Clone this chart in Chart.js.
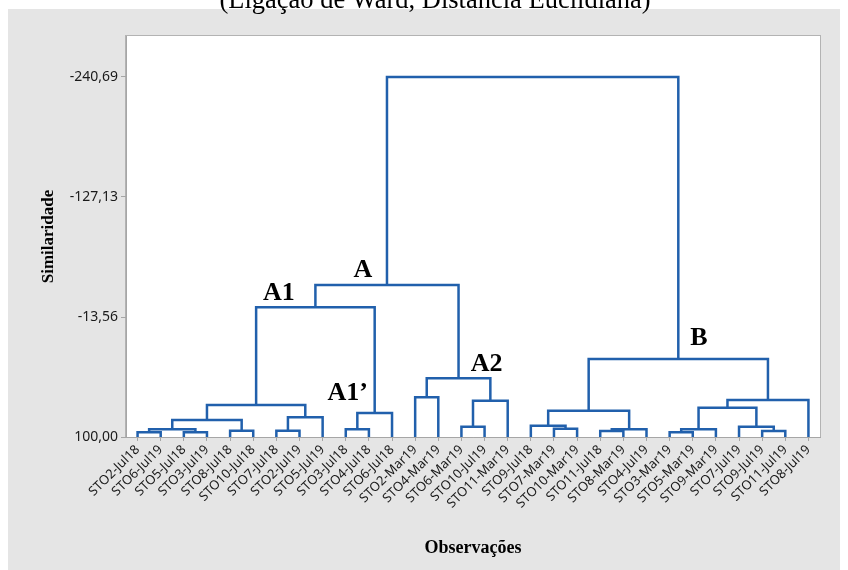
<!DOCTYPE html>
<html>
<head>
<meta charset="utf-8">
<script src="https://cdn.jsdelivr.net/npm/chart.js@4.4.0/dist/chart.umd.min.js"></script>
<style>
  html, body { margin: 0; padding: 0; background: #ffffff; }
  canvas { display: block; }
</style>
</head>
<body>
<canvas id="dendro" width="848" height="570"></canvas>
<script>
// Observations in dendrogram leaf order
const leafLabels = [
  'STO2-Jul18', 'STO6-Jul19', 'STO5-Jul18', 'STO3-Jul19', 'STO8-Jul18',
  'STO10-Jul18', 'STO7-Jul18', 'STO2-Jul19', 'STO5-Jul19', 'STO3-Jul18',
  'STO4-Jul18', 'STO6-Jul18', 'STO2-Mar19', 'STO4-Mar19', 'STO6-Mar19',
  'STO10-Jul19', 'STO11-Mar19', 'STO9-Jul18', 'STO7-Mar19', 'STO10-Mar19',
  'STO11-Jul18', 'STO8-Mar19', 'STO4-Jul19', 'STO3-Mar19', 'STO5-Mar19',
  'STO9-Mar19', 'STO7-Jul19', 'STO9-Jul19', 'STO11-Jul19', 'STO8-Jul19'
];

// Ward linkage steps: node ids < 30 are observations, id 30+k is the cluster made at step k
const mergeLeft   = [0, 2, 30, 4, 32, 6, 35, 34, 9, 38, 37, 12, 14, 42, 41, 40, 18, 17, 20, 48, 47, 23, 51, 27, 26, 52, 55, 50, 45];
const mergeRight  = [1, 3, 31, 5, 33, 7, 8, 36, 10, 11, 39, 13, 15, 16, 43, 44, 19, 46, 21, 22, 49, 24, 25, 28, 53, 54, 29, 56, 57];
const mergeHeight = [95.55, 95.55, 92.71, 94.04, 83.91, 94.04, 81.36, 69.72, 92.71, 77.29,
                     -22.74, 62.43, 90.25, 65.74, 44.45, -43.85, 92.15, 89.31, 94.32, 92.71,
                     75.11, 95.55, 92.71, 94.32, 90.25, 72.27, 64.98, 26.18, -240.69];

// Similarity axis ticks
const yTickValues = [100, -13.56, -127.13, -240.69];

// Named groups and the linkage step they label
const groupNames = ['A1', 'A1\u2019', 'A2', 'A', 'B'];
const groupSteps = [10, 9, 14, 15, 27];

const nLeaves = leafLabels.length;
const nodeX = [];
const nodeH = [];
for (let i = 0; i < nLeaves; i++) { nodeX.push(i); nodeH.push(100); }
for (let k = 0; k < mergeHeight.length; k++) {
  nodeX.push((nodeX[mergeLeft[k]] + nodeX[mergeRight[k]]) / 2);
  nodeH.push(mergeHeight[k]);
}

const lineColor = '#2160ac';
const datasets = mergeHeight.map((h, k) => {
  const l = mergeLeft[k], r = mergeRight[k];
  return {
    data: [
      { x: nodeX[l], y: nodeH[l] },
      { x: nodeX[l], y: h },
      { x: nodeX[r], y: h },
      { x: nodeX[r], y: nodeH[r] }
    ],
    borderColor: lineColor,
    borderWidth: 2.5,
    borderJoinStyle: 'miter',
    borderCapStyle: 'butt',
    pointRadius: 0,
    fill: false,
    tension: 0
  };
});

// Grey panel behind the chart and white framed plotting area
const panelPlugin = {
  id: 'panel',
  beforeDraw(chart) {
    const { ctx, chartArea: a } = chart;
    ctx.save();
    ctx.fillStyle = '#e5e5e5';
    ctx.fillRect(8, 9, 832, 561);
    ctx.fillStyle = '#ffffff';
    ctx.fillRect(a.left, a.top, a.right - a.left, a.bottom - a.top);
    ctx.strokeStyle = '#b3b3b3';
    ctx.lineWidth = 1;
    ctx.strokeRect(a.left - 0.5, a.top - 0.5, a.right - a.left + 1, a.bottom - a.top + 1);
    ctx.restore();
  }
};

// Heading text above the panel
const headingPlugin = {
  id: 'heading',
  afterDraw(chart) {
    const ctx = chart.ctx;
    ctx.save();
    ctx.font = '26.5px "Liberation Serif", "Times New Roman", serif';
    ctx.fillStyle = '#000000';
    ctx.textAlign = 'center';
    ctx.textBaseline = 'alphabetic';
    ctx.fillText('(Ligação de Ward, Distância Euclidiana)', 435, 7.5);
    ctx.restore();
  }
};

// Group names placed next to their linkage node
const groupPlugin = {
  id: 'groups',
  afterDatasetsDraw(chart) {
    const { ctx, scales: { x, y } } = chart;
    const offsets = { 'A1': [-36.5, -7], 'A1\u2019': [-27, -13], 'A2': [28, -7], 'A': [-24, -8], 'B': [20.5, -14] };
    ctx.save();
    ctx.font = 'bold 26px "Liberation Serif", "Times New Roman", serif';
    ctx.fillStyle = '#000000';
    ctx.textAlign = 'center';
    ctx.textBaseline = 'alphabetic';
    groupNames.forEach((name, i) => {
      const node = nLeaves + groupSteps[i];
      const px = x.getPixelForValue(nodeX[node]);
      const py = y.getPixelForValue(nodeH[node]);
      const o = offsets[name];
      ctx.fillText(name, px + o[0], py + o[1]);
    });
    ctx.restore();
  }
};

new Chart(document.getElementById('dendro'), {
  type: 'line',
  data: { datasets },
  plugins: [panelPlugin, groupPlugin, headingPlugin],
  options: {
    responsive: false,
    animation: false,
    devicePixelRatio: 1,
    layout: { padding: { left: 0, top: 36, right: 28, bottom: 0 } },
    plugins: {
      legend: { display: false },
      tooltip: { enabled: false },
      title: { display: false }
    },
    scales: {
      x: {
        type: 'linear',
        min: -0.5,
        max: 29.5,
        afterBuildTicks: (s) => { s.ticks = leafLabels.map((_, i) => ({ value: i })); },
        afterFit: (s) => { s.height = 133; },
        ticks: {
          autoSkip: false,
          minRotation: 45,
          maxRotation: 45,
          padding: 1,
          color: '#1a1a1a',
          font: { family: '"Noto Sans", sans-serif', size: 13 },
          callback: (v) => leafLabels[v]
        },
        grid: { drawOnChartArea: false, tickLength: 4, color: '#a6a6a6' },
        border: { color: '#a6a6a6' },
        title: {
          display: true,
          text: 'Observações',
          color: '#000000',
          font: { family: '"Liberation Serif", serif', size: 18, weight: 'bold' },
          padding: { top: 0, bottom: 11 }
        }
      },
      y: {
        type: 'linear',
        reverse: true,
        min: -279.49,
        max: 100,
        afterBuildTicks: (s) => { s.ticks = yTickValues.map((v) => ({ value: v })); },
        afterFit: (s) => { s.width = 126; },
        ticks: {
          padding: 3,
          color: '#1a1a1a',
          font: { family: '"Noto Sans", sans-serif', size: 14 },
          callback: (v) => v.toFixed(2).replace('.', ',')
        },
        grid: { drawOnChartArea: false, tickLength: 5, color: '#a6a6a6' },
        border: { color: '#a6a6a6' },
        title: {
          display: true,
          text: 'Similaridade',
          color: '#000000',
          font: { family: '"Liberation Serif", serif', size: 17, weight: 'bold' },
          padding: { top: 38, bottom: 0 }
        }
      }
    }
  }
});
</script>
</body>
</html>
